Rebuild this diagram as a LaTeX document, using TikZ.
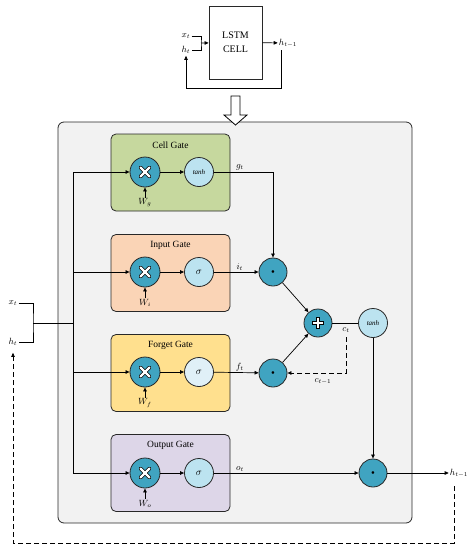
\documentclass[tikz,border=0pt]{standalone}
\usepackage{fontspec}
\setmainfont{Liberation Serif}
\usetikzlibrary{arrows.meta, calc, positioning}
\definecolor{cellfill}{RGB}{198,216,158}
\definecolor{infill}{RGB}{250,212,182}
\definecolor{fgfill}{RGB}{255,224,142}
\definecolor{outfill}{RGB}{221,214,232}
\definecolor{opteal}{RGB}{64,164,193}
\definecolor{actblue}{RGB}{188,227,240}
\definecolor{actpale}{RGB}{224,240,247}
\definecolor{edge}{RGB}{40,40,40}
\newcommand{\actfont}{\fontsize{7}{8}\selectfont\itshape}
\newcommand{\hdot}{\fontsize{6}{6}\selectfont$\bullet$}
\tikzset{
  gatebox/.style ={draw=edge, rounded corners=5pt, line width=0.8pt, minimum width=119pt, minimum height=77pt, inner sep=0pt},
  mul/.style     ={circle, draw=edge, fill=opteal, line width=0.8pt, minimum size=30pt, inner sep=0pt,
                   path picture={
                     \draw[black, line width=3.8pt, line cap=round] (path picture bounding box.center) ++(-4.5,-4.5) -- ++(9,9) ++(0,-9) -- ++(-9,9);
                     \draw[white, line width=2.2pt, line cap=round] (path picture bounding box.center) ++(-4.5,-4.5) -- ++(9,9) ++(0,-9) -- ++(-9,9);}},
  add/.style     ={circle, draw=edge, fill=opteal, line width=0.8pt, minimum size=28pt, inner sep=0pt,
                   path picture={
                     \draw[black, line width=3.8pt] (path picture bounding box.center) ++(-6,0) -- ++(12,0) ++(-6,-6) -- ++(0,12);
                     \draw[white, line width=2.0pt] (path picture bounding box.center) ++(-5.4,0) -- ++(10.8,0) ++(-5.4,-5.4) -- ++(0,10.8);}},
  had/.style     ={circle, draw=edge, fill=opteal, line width=0.8pt, minimum size=28pt, inner sep=0pt},
  act/.style     ={circle, draw=edge, fill=actblue, line width=0.8pt, minimum size=29pt, inner sep=0pt},
  ln/.style      ={line width=0.7pt},
  arr/.style     ={-{Triangle[length=4pt,width=3.5pt]}, line width=0.7pt},
  dsh/.style     ={dash pattern=on 5pt off 3pt},
  lbl/.style     ={font=\fontsize{9}{10}\selectfont, inner sep=1pt},
  ttl/.style     ={font=\fontsize{9.5}{11}\selectfont},
}

\begin{document}
\begin{tikzpicture}[x=1pt, y=-1pt]
  \useasboundingbox (0,0) rectangle (467,550);

  % TOP: compact LSTM cell
  \node[draw=edge, fill=white, line width=0.8pt, minimum width=53pt, minimum height=73pt,
        align=center, font=\fontsize{10}{14}\selectfont] (cell) at (235.5,42.5) {LSTM\\CELL};
  \node[lbl] (tx)  at (186,36) {$x_t$};
  \node[lbl] (th)  at (186,50) {$h_t$};
  \node[lbl] (tho) at (288,43) {$h_{t-1}$};
  \coordinate (tb)  at (201,43);
  \coordinate (tfs) at (281,50);
  \coordinate (tfb) at (186,88);
  \draw[ln] (tx) -| (tb) |- (th);
  \draw[arr] (tb) -- (cell);
  \draw[arr] (cell) -- (tho);
  \draw[arr, shorten >=1pt] (tfs) |- (tfb) -- (th);

  % unfolded cell
  \node[draw=edge, fill=gray!10, line width=0.8pt, rounded corners=6pt,
        minimum width=354pt, minimum height=401pt] (core) at (235,322.5) {};
  \draw[fill=white, line width=0.8pt] (231,96) -- (240,96) -- (240,115) -- (247,115)
    -- (235.5,125) -- (224,115) -- (231,115) -- cycle;

  % CELL GATE
  \node[gatebox, fill=cellfill] (gc) at (170.5,172.5) {};
  \node[ttl] (gct) at (170.5,145) {Cell Gate};
  \node[mul] (mc) at (145,172) {};
  \node[act] (ac) at (199,172) {\actfont tanh};
  \node[lbl] (wc) at (145,203) {$W_g$};

  % INPUT GATE
  \node[gatebox, fill=infill] (gi) at (170.5,273) {};
  \node[ttl] (git) at (170.5,245.5) {Input Gate};
  \node[mul] (mi) at (145,272) {};
  \node[act] (ai) at (199,272) {$\sigma$};
  \node[lbl] (wi) at (145,303) {$W_i$};

  % FORGET GATE
  \node[gatebox, fill=fgfill] (gf) at (170.5,373) {};
  \node[ttl] (gft) at (170.5,345.5) {Forget Gate};
  \node[mul] (mf) at (145,372) {};
  \node[act, fill=actpale] (af) at (199,372) {$\sigma$};
  \node[lbl] (wf) at (145,403) {$W_f$};

  % OUTPUT GATE
  \node[gatebox, fill=outfill] (go) at (170.5,473) {};
  \node[ttl] (got) at (170.5,445.5) {Output Gate};
  \node[mul] (mo) at (145,473) {};
  \node[act] (ao) at (199,473) {$\sigma$};
  \node[lbl] (wo) at (145,504) {$W_o$};

  \draw[arr] (wc) -- (mc);  \draw[arr] (mc) -- (ac);
  \draw[arr] (wi) -- (mi);  \draw[arr] (mi) -- (ai);
  \draw[arr] (wf) -- (mf);  \draw[arr] (mf) -- (af);
  \draw[arr] (wo) -- (mo);  \draw[arr] (mo) -- (ao);

  % inputs and trunk
  \node[lbl] (xin) at (13,303) {$x_t$};
  \node[lbl] (hin) at (13,342) {$h_t$};
  \coordinate (lb) at (33,323);
  \coordinate (tj) at (73,323);
  \coordinate (tc) at (73,172);
  \coordinate (ti) at (73,272);
  \coordinate (tf) at (73,372);
  \coordinate (to) at (73,473);
  \draw[ln] (xin) -| (lb) |- (hin);
  \draw[ln] (lb) -- (tj);
  \draw[ln] (tc) -- (to);
  \draw[arr] (tc) -- (mc);
  \draw[arr] (ti) -- (mi);
  \draw[arr] (tf) -- (mf);
  \draw[arr] (to) -- (mo);

  % cell state
  \node[had] (hi) at (273,272) {\hdot};
  \node[had] (hf) at (273,373) {\hdot};
  \node[add] (pl) at (318,323) {};
  \node[act] (tn) at (373,323) {\actfont tanh};
  \node[had] (ho) at (373,473) {\hdot};
  \draw[arr] (ac) -| node[lbl, pos=0.22, above] {$g_t$} (hi);
  \draw[arr] (ai) -- node[lbl, pos=0.58, above] {$i_t$} (hi);
  \draw[arr] (af) -- node[lbl, pos=0.58, above] {$f_t$} (hf);
  \draw[arr] (ao) -- node[lbl, pos=0.18, above] {$o_t$} (ho);
  \draw[arr] (hi) -- (pl);
  \draw[arr] (hf) -- (pl);
  \draw[ln] (pl) -- (tn);
  \node[lbl] (ct) at (346,330) {$c_t$};
  \coordinate (cs) at (346,337);
  \draw[arr, dsh] (cs) |- (hf);
  \node[lbl] (cp) at (323,381) {$c_{t-1}$};
  \draw[arr] (tn) -- (ho);

  % output and feedback
  \node[lbl] (hout) at (459,473) {$h_{t-1}$};
  \draw[arr] (ho) -- (hout);
  \coordinate (fs) at (454,486);
  \coordinate (fb) at (13,543);
  \draw[arr, dsh, shorten >=6pt] (fs) |- (fb) -- (hin);
\end{tikzpicture}
\end{document}
